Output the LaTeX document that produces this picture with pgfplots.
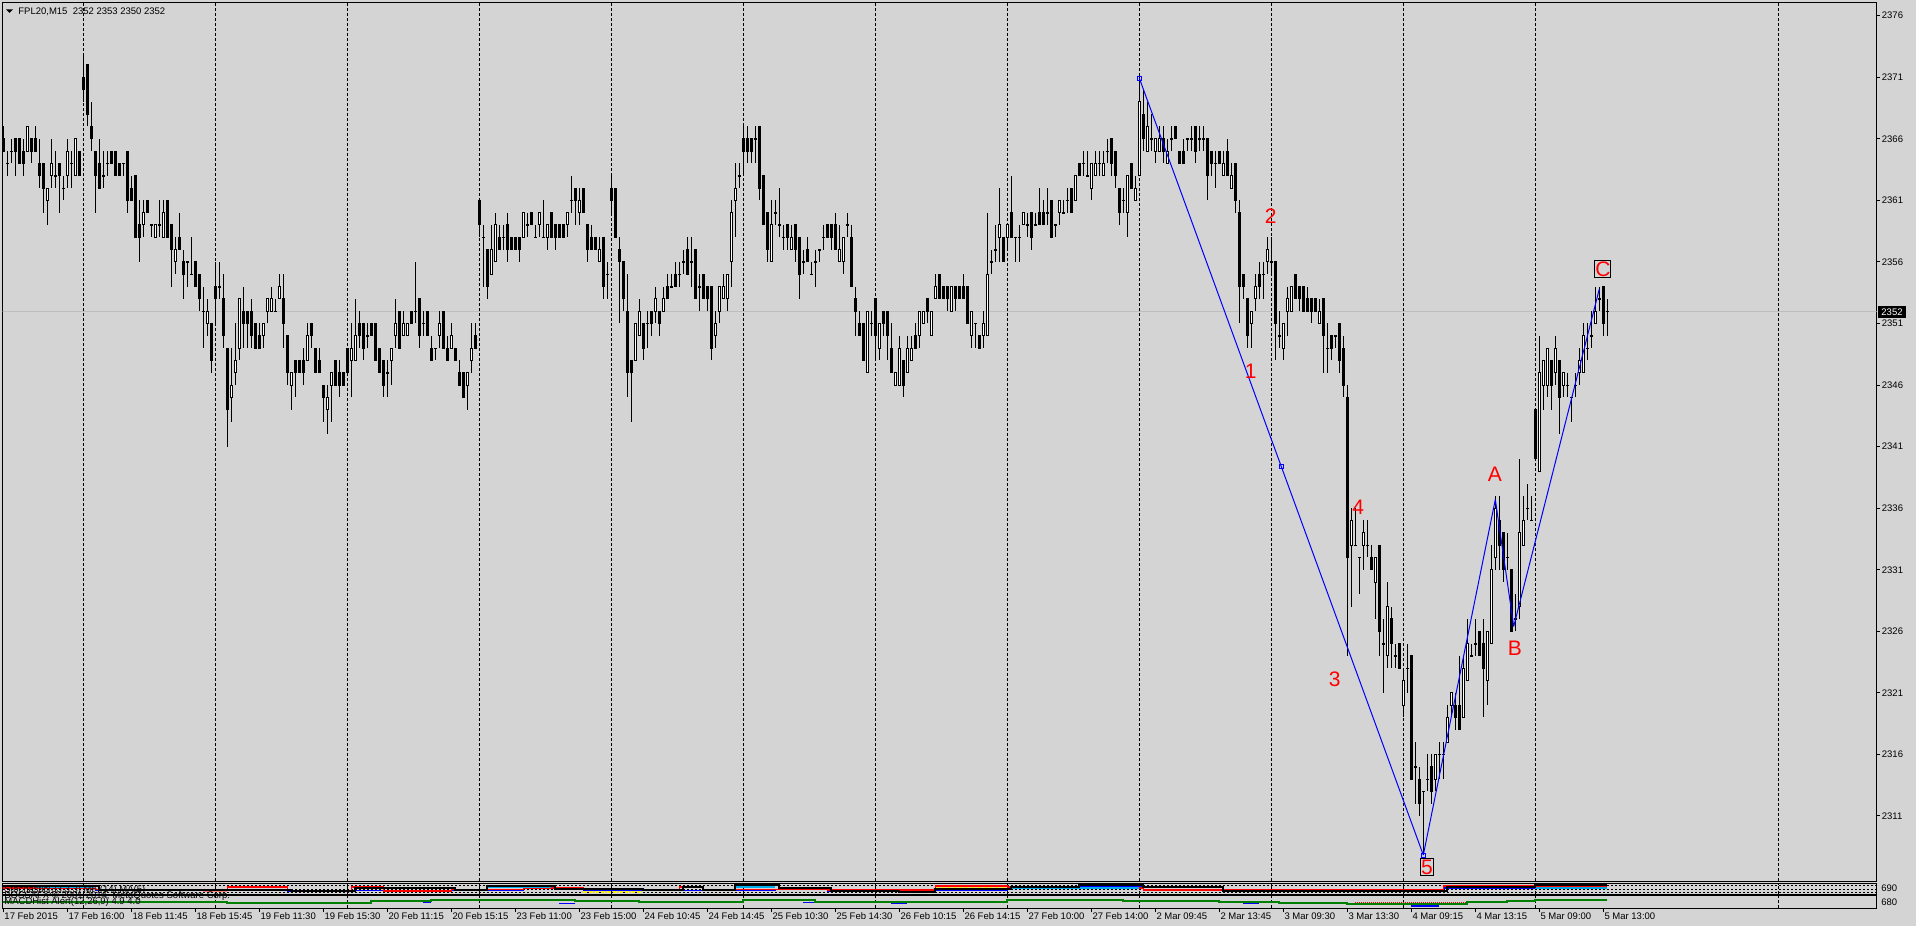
\documentclass[border=0pt]{standalone}
\usepackage{pgfplots}
\pgfplotsset{compat=1.18}
\usepackage{pgfplotstable}
\usepackage{fontspec}
\setmainfont{Liberation Sans}
\definecolor{bg}{RGB}{212,212,212}
\definecolor{pline}{RGB}{190,190,190}
\definecolor{mtgreen}{RGB}{0,128,0}
\definecolor{salmon}{RGB}{250,128,114}
\newcommand{\lbl}{\fontsize{4.75bp}{5.7bp}\selectfont}
\newcommand{\wav}{\fontsize{10.5bp}{12bp}\selectfont}

\pgfplotstableread{
O H L C
2366 2367 2365 2365
2364 2365 2363 2364
2365 2366 2364 2365
2366 2366 2363 2365
2366 2366 2364 2364
2365 2366 2363 2364
2365 2367 2365 2367
2366 2366 2364 2365
2366 2367 2365 2365
2364 2366 2362 2363
2364 2364 2360 2362
2361 2362 2359 2362
2363 2366 2362 2364
2363 2365 2362 2363
2364 2364 2360 2363
2362 2363 2361 2362
2363 2366 2362 2365
2364 2365 2362 2364
2363 2366 2363 2366
2365 2365 2363 2363
2371 2373 2369 2370
2372 2372 2367 2368
2367 2369 2365 2366
2365 2365 2360 2363
2364 2366 2362 2362
2363 2365 2362 2363
2364 2365 2363 2364
2365 2365 2364 2364
2365 2365 2363 2363
2364 2364 2363 2363
2364 2364 2363 2364
2365 2365 2360 2361
2362 2363 2361 2361
2363 2363 2358 2358
2359 2361 2356 2358
2359 2361 2358 2360
2361 2361 2360 2360
2359 2359 2358 2359
2358 2359 2358 2359
2359 2361 2358 2359
2358 2361 2358 2360
2361 2361 2358 2358
2359 2359 2354 2357
2356 2358 2355 2357
2358 2360 2357 2357
2356 2357 2353 2355
2356 2356 2354 2356
2355 2358 2355 2355
2356 2356 2354 2354
2355 2355 2352 2353
2352 2354 2349 2352
2351 2353 2350 2352
2351 2351 2347 2348
2354 2356 2351 2353
2354 2356 2353 2354
2353 2355 2349 2350
2349 2349 2341 2344
2345 2349 2343 2346
2347 2351 2346 2348
2349 2353 2348 2353
2352 2354 2349 2351
2352 2352 2349 2351
2352 2353 2349 2350
2351 2351 2349 2349
2350 2351 2349 2349
2350 2351 2349 2351
2352 2353 2351 2353
2352 2354 2352 2353
2352 2353 2352 2352
2353 2355 2353 2354
2353 2355 2349 2351
2350 2350 2346 2347
2346 2347 2344 2347
2348 2348 2345 2347
2348 2348 2347 2347
2348 2349 2346 2347
2348 2351 2348 2350
2351 2351 2349 2350
2349 2349 2347 2347
2348 2349 2347 2347
2346 2346 2343 2345
2344 2346 2342 2345
2346 2347 2343 2347
2348 2348 2346 2346
2347 2348 2345 2346
2347 2347 2346 2346
2349 2349 2347 2347
2348 2351 2345 2349
2348 2353 2348 2350
2351 2352 2349 2350
2351 2351 2348 2349
2350 2351 2349 2350
2351 2351 2350 2350
2351 2351 2348 2348
2349 2349 2347 2347
2348 2348 2345 2346
2347 2348 2345 2347
2348 2349 2346 2349
2350 2353 2349 2351
2352 2352 2349 2349
2350 2352 2350 2351
2350 2351 2350 2351
2352 2352 2351 2351
2352 2356 2351 2352
2353 2353 2349 2350
2351 2352 2350 2351
2352 2352 2350 2350
2349 2350 2348 2348
2349 2349 2348 2349
2350 2352 2349 2351
2352 2352 2349 2349
2349 2350 2348 2348
2349 2351 2349 2350
2349 2349 2348 2348
2347 2348 2346 2346
2347 2347 2345 2345
2346 2347 2344 2347
2348 2351 2347 2349
2350 2351 2349 2349
2361 2361 2358 2359
2358 2359 2354 2358
2357 2357 2353 2354
2355 2359 2355 2357
2356 2360 2356 2359
2358 2359 2357 2357
2358 2359 2357 2358
2359 2360 2356 2357
2358 2358 2357 2357
2358 2358 2357 2357
2358 2358 2356 2357
2358 2360 2358 2360
2359 2360 2358 2359
2360 2360 2359 2359
2358 2359 2358 2358
2359 2360 2358 2360
2358 2361 2358 2358
2358 2359 2357 2359
2360 2360 2358 2358
2359 2359 2357 2358
2359 2359 2358 2358
2359 2359 2358 2358
2359 2360 2358 2360
2361 2363 2360 2361
2362 2362 2359 2361
2360 2362 2359 2361
2362 2362 2360 2360
2359 2359 2356 2357
2358 2359 2357 2357
2358 2358 2357 2357
2356 2358 2356 2357
2358 2358 2353 2354
2355 2356 2353 2355
2362 2363 2360 2361
2362 2362 2358 2358
2357 2358 2351 2356
2356 2356 2352 2353
2352 2355 2345 2347
2348 2348 2343 2347
2348 2351 2348 2351
2350 2353 2350 2352
2351 2351 2348 2349
2351 2352 2349 2351
2352 2352 2350 2351
2352 2354 2351 2353
2352 2352 2350 2351
2352 2354 2352 2353
2354 2355 2353 2353
2354 2355 2354 2354
2355 2356 2354 2354
2355 2356 2354 2355
2356 2357 2355 2356
2357 2358 2355 2355
2356 2358 2354 2356
2357 2357 2353 2353
2354 2355 2352 2354
2355 2355 2353 2353
2354 2354 2352 2353
2354 2354 2348 2349
2350 2352 2349 2351
2352 2354 2351 2354
2353 2355 2353 2354
2353 2355 2352 2355
2356 2361 2354 2360
2361 2364 2358 2362
2363 2364 2362 2363
2366 2367 2363 2365
2366 2367 2364 2365
2366 2366 2364 2365
2366 2367 2364 2366
2367 2367 2361 2362
2363 2363 2359 2359
2360 2360 2356 2357
2356 2361 2356 2359
2360 2361 2359 2360
2359 2362 2358 2359
2358 2359 2357 2358
2359 2359 2357 2358
2357 2359 2357 2358
2359 2359 2356 2357
2358 2358 2353 2355
2356 2357 2355 2356
2357 2358 2356 2356
2355 2356 2355 2355
2356 2357 2354 2356
2357 2357 2356 2357
2358 2359 2357 2358
2359 2359 2358 2358
2359 2359 2357 2358
2359 2360 2357 2357
2356 2359 2356 2357
2356 2358 2355 2358
2359 2360 2358 2359
2358 2359 2354 2354
2353 2354 2350 2352
2351 2352 2350 2350
2351 2351 2348 2348
2347 2352 2347 2352
2351 2352 2350 2351
2353 2353 2348 2350
2349 2351 2348 2351
2352 2352 2350 2351
2352 2352 2348 2350
2349 2351 2347 2347
2346 2347 2346 2347
2346 2350 2346 2349
2348 2348 2345 2346
2347 2350 2347 2349
2348 2350 2348 2349
2350 2351 2349 2349
2350 2352 2349 2352
2351 2352 2351 2352
2353 2353 2351 2352
2350 2352 2350 2352
2353 2355 2353 2354
2355 2355 2353 2353
2354 2354 2353 2353
2354 2354 2352 2353
2352 2354 2352 2354
2354 2354 2352 2353
2354 2354 2353 2353
2354 2355 2353 2353
2354 2354 2351 2351
2350 2352 2349 2352
2351 2351 2349 2351
2350 2350 2349 2349
2350 2352 2349 2351
2350 2360 2350 2355
2356 2357 2355 2356
2357 2359 2356 2357
2358 2362 2356 2359
2358 2358 2356 2356
2358 2359 2357 2359
2360 2363 2358 2358
2358 2358 2356 2358
2358 2359 2356 2358
2359 2360 2359 2360
2359 2360 2358 2359
2360 2360 2357 2358
2359 2360 2359 2359
2360 2362 2359 2359
2360 2361 2359 2359
2360 2362 2359 2360
2361 2361 2358 2358
2359 2359 2358 2359
2360 2361 2359 2361
2360 2361 2360 2360
2361 2362 2360 2361
2362 2362 2360 2360
2361 2363 2361 2363
2364 2364 2363 2363
2364 2365 2363 2364
2363 2365 2363 2363
2362 2364 2361 2364
2363 2365 2363 2364
2364 2365 2363 2364
2363 2365 2363 2364
2365 2366 2364 2365
2366 2366 2363 2364
2365 2365 2362 2363
2362 2362 2359 2360
2361 2362 2360 2361
2360 2363 2358 2363
2364 2364 2362 2362
2361 2363 2361 2362
2363 2371 2363 2369
2368 2370 2365 2366
2365 2369 2365 2367
2366 2368 2365 2366
2365 2366 2364 2366
2365 2367 2365 2366
2366 2367 2364 2365
2364 2366 2364 2365
2366 2367 2365 2366
2367 2367 2366 2366
2365 2365 2364 2364
2365 2366 2364 2364
2366 2366 2365 2366
2366 2367 2365 2366
2367 2367 2364 2365
2366 2367 2365 2366
2366 2367 2365 2366
2366 2366 2361 2363
2365 2365 2363 2364
2364 2365 2362 2364
2365 2365 2364 2364
2363 2365 2363 2364
2365 2366 2363 2363
2362 2364 2362 2363
2364 2364 2360 2361
2360 2361 2351 2354
2355 2355 2353 2354
2353 2353 2349 2350
2351 2352 2349 2352
2353 2355 2352 2354
2355 2356 2353 2354
2355 2356 2353 2355
2356 2358 2355 2357
2356 2358 2355 2356
2356 2356 2348 2351
2350 2352 2349 2350
2349 2351 2348 2351
2352 2354 2350 2353
2352 2354 2352 2354
2355 2355 2353 2353
2354 2354 2352 2353
2354 2354 2352 2352
2353 2354 2352 2352
2353 2353 2351 2352
2353 2353 2352 2352
2351 2353 2351 2352
2353 2353 2347 2350
2349 2351 2347 2349
2350 2350 2348 2349
2350 2350 2349 2350
2351 2351 2347 2348
2349 2350 2345 2346
2345 2346 2324 2332
2333 2336 2328 2335
2333 2336 2333 2333
2332 2332 2329 2332
2333 2335 2331 2334
2333 2335 2332 2333
2332 2333 2331 2331
2330 2332 2327 2332
2333 2333 2324 2326
2325 2327 2321 2325
2324 2330 2323 2328
2327 2328 2323 2325
2324 2325 2323 2324
2325 2325 2323 2323
2320 2323 2319 2322
2323 2325 2321 2323
2324 2324 2314 2314
2315 2317 2312 2315
2314 2315 2311 2312
2313 2313 2308 2313
2314 2316 2313 2314
2315 2316 2312 2313
2314 2316 2313 2316
2316 2317 2314 2316
2316 2317 2314 2316
2317 2320 2317 2319
2320 2321 2319 2321
2320 2321 2318 2319
2320 2324 2318 2318
2319 2324 2319 2323
2322 2327 2322 2325
2324 2325 2324 2324
2325 2327 2324 2325
2326 2326 2324 2324
2325 2327 2319 2323
2322 2326 2320 2326
2325 2333 2325 2331
2332 2337 2331 2336
2335 2337 2331 2333
2334 2334 2330 2331
2332 2334 2331 2332
2331 2331 2326 2326
2327 2329 2326 2327
2328 2340 2327 2334
2333 2337 2333 2335
2336 2338 2335 2336
2335 2337 2335 2335
2344 2344 2340 2340
2339 2350 2339 2347
2346 2348 2344 2348
2346 2349 2345 2349
2348 2348 2344 2346
2347 2350 2346 2349
2348 2348 2342 2345
2346 2347 2345 2347
2346 2347 2345 2346
2345 2345 2343 2345
2346 2347 2345 2346
2347 2349 2346 2348
2347 2351 2347 2350
2349 2351 2348 2349
2350 2352 2349 2350
2351 2354 2351 2352
2353 2354 2352 2353
2354 2354 2350 2351
2352 2353 2350 2352
}\candles

\begin{document}
\begin{tikzpicture}
\path[fill=bg] (0,0) rectangle (958bp,463bp);

% ---------- main price panel ----------
\begin{axis}[
  at={(1.25bp,22.5bp)}, anchor=south west,
  scale only axis, width=937bp, height=439.25bp,
  xmin=-0.2, xmax=468.3, ymin=2305.72, ymax=2377.07,
  axis line style={line width=0.5bp, black},
  xtick=\empty,
  ytick={2311,2316,...,2376},
  ytick pos=right,
  tick align=outside,
  major tick length=1.5bp,
  tick style={line width=0.5bp, black},
  yticklabel style={font=\lbl, anchor=west, inner sep=0pt, xshift=1bp},
  extra x ticks={20,53,86,119,152,185,218,251,284,317,350,383,443.9},
  extra x tick labels={},
  extra x tick style={grid=major, major tick length=0pt, tick style={draw=none}},
  major grid style={black, line width=0.5bp, dash pattern=on 1.5bp off 1bp},
  /pgf/number format/1000 sep={},
  /pgf/number format/assume math mode=true,
]
\addplot[pline, line width=0.5bp, forget plot] coordinates {(-1,2352) (470,2352)};
% wicks
\addplot[draw=none, mark=none, forget plot,
  error bars/.cd, y dir=both, y explicit, error mark=none,
  error bar style={draw=black, line width=0.5bp, solid, line cap=butt}]
  table[x expr=\coordindex, y expr={0.5*(\thisrow{H}+\thisrow{L})},
        y error expr={0.5*(\thisrow{H}-\thisrow{L})}] {\candles};
% bodies (outline / bear fill)
\addplot[draw=none, mark=none, forget plot,
  error bars/.cd, y dir=both, y explicit, error mark=none,
  error bar style={draw=black, line width=1.5bp, solid, line cap=butt}]
  table[x expr=\coordindex, y expr={0.5*(\thisrow{O}+\thisrow{C})},
        y error expr={0.5*abs(\thisrow{C}-\thisrow{O})+0.0406}] {\candles};
% bull bodies white fill
\addplot[draw=none, mark=none, forget plot, restrict y to domain=2300:2400,
  error bars/.cd, y dir=both, y explicit, error mark=none,
  error bar style={draw=white, line width=0.5bp, solid, line cap=butt}]
  table[x expr=\coordindex, y expr={0.5*(\thisrow{O}+\thisrow{C})-1000*(\thisrow{O}>=\thisrow{C})},
        y error expr={0.5*abs(\thisrow{C}-\thisrow{O})-0.0406}] {\candles};
% Elliott wave lines
\addplot[blue, line width=0.5bp] coordinates {(284,2370.92) (355,2307.83)};
\addplot[blue, line width=0.5bp] coordinates {(355,2307.83) (373,2336.7)};
\addplot[blue, line width=0.5bp] coordinates {(373,2336.7) (377.6,2326.4)};
\addplot[blue, line width=0.5bp] coordinates {(377.6,2326.4) (399,2353.8)};
\addplot[only marks, blue, mark=square, mark size=1bp, mark options={solid, line width=0.5bp}]
  coordinates {(284,2370.92) (319.5,2339.4) (355,2307.83)};
% labels
\node[text=red, font=\wav, inner sep=0pt] at (axis cs:311.85,2347.1) {1};
\node[text=red, font=\wav, inner sep=0pt] at (axis cs:316.85,2359.7) {2};
\node[text=red, font=\wav, inner sep=0pt] at (axis cs:332.85,2322.1) {3};
\node[text=red, font=\wav, inner sep=0pt] at (axis cs:338.75,2336.1) {4};
\node[text=red, font=\wav, draw=black, line width=0.5bp, inner xsep=0.3bp, inner ysep=0.6bp] at (axis cs:355.9,2306.85) {5};
\node[text=red, font=\wav, inner sep=0pt] at (axis cs:372.9,2338.75) {A};
\node[text=red, font=\wav, inner sep=0pt] at (axis cs:377.9,2324.6) {B};
\node[text=red, font=\wav, draw=black, line width=0.5bp, inner xsep=0.2bp, inner ysep=0.6bp] at (axis cs:399.9,2355.4) {C};
\end{axis}

% ---------- indicator panel 1 ----------
\begin{axis}[
  at={(1.25bp,15.85bp)}, anchor=south west,
  scale only axis, width=937bp, height=5.4bp,
  xmin=-0.2, xmax=468.3, ymin=0, ymax=100,
  axis line style={line width=0.5bp, black},
  xtick=\empty, ytick=\empty,
  extra x ticks={20,53,86,119,152,185,218,251,284,317,350,383,443.9},
  extra x tick labels={},
  extra x tick style={grid=major, major tick length=0pt, tick style={draw=none}},
  major grid style={black, line width=0.5bp, dash pattern=on 1.5bp off 1bp},
]
\addplot[black, line width=0.5bp, dash pattern=on 1bp off 1bp, forget plot] coordinates {(-1,77) (470,77)};
\addplot[black, line width=0.5bp, dash pattern=on 1bp off 1bp, forget plot] coordinates {(-1,49) (470,49)};
\addplot[black, line width=0.5bp, dash pattern=on 1bp off 1bp, forget plot] coordinates {(-1,21) (470,21)};
\addplot[salmon, line width=0.8bp, const plot] coordinates {(50,30) (56,30)};
\addplot[salmon, line width=0.8bp, const plot] coordinates {(223,40) (232,40)};
\addplot[salmon, line width=0.8bp, const plot] coordinates {(305,34) (360,34)};
\addplot[yellow, line width=0.8bp, dash pattern=on 2bp off 1bp] coordinates {(145,21) (160,21)};
\addplot[yellow, line width=0.8bp, dash pattern=on 2bp off 1bp] coordinates {(206,34) (223,34)};
\addplot[yellow, line width=0.8bp, dash pattern=on 2bp off 1bp] coordinates {(233,56) (251,56)};
\addplot[yellow, line width=0.8bp, dash pattern=on 2bp off 1bp] coordinates {(285,46) (304,46)};
\addplot[yellow, line width=0.8bp, dash pattern=on 2bp off 1bp] coordinates {(361,61) (382,61)};
\addplot[blue, line width=0.8bp, const plot] coordinates {(0,56)(23,40)(56,34)(71,30)(87,34)(112,40)(130,56)(145,34)(175,40)(193,46)(206,30)(233,40)(251,60)(268,70)(285,70)(305,30)(360,56)(383,60)(401,60)};
\addplot[red, line width=0.8bp, const plot] coordinates {(0,56)(23,45)(56,70)(71,34)(87,70)(95,30)(112,45)(130,56)(145,46)(169,70)(175,45)(193,46)(206,40)(233,77)(251,65)(268,56)(285,40)(305,40)(360,77)(383,75)(401,75)};
\addplot[cyan, line width=1bp] coordinates {(8,70) (23,70)};
\addplot[cyan, line width=1bp] coordinates {(121,70) (137,70)};
\addplot[cyan, line width=1bp] coordinates {(183,70) (193,70)};
\addplot[cyan, line width=1bp] coordinates {(252,60) (284,60)};
\addplot[cyan, line width=1.2bp] coordinates {(383,56) (401,56)};
\addplot[black, line width=1bp, const plot] coordinates {(0,77)(23,77)(24,37)(56,37)(57,40)(71,40)(72,30)(87,30)(88,60)(112,55)(113,40)(120,40)(121,77)(137,77)(138,50)(145,50)(146,46)(160,40)(169,40)(170,70)(174,70)(175,40)(182,40)(183,83)(193,83)(194,61)(206,61)(207,30)(223,30)(224,24)(232,24)(233,46)(251,46)(252,65)(268,65)(269,83)(284,83)(285,70)(304,70)(305,34)(319,34)(320,27)(360,27)(361,70)(382,70)(383,83)(401,83)};
\end{axis}
\node[font=\lbl, anchor=base west, inner sep=0pt] at (2bp,16.6bp) {Stochastic(33,3,3)  MFI(14)  MA(5)};

% ---------- indicator panel 2 ----------
\begin{axis}[
  at={(1.25bp,8.85bp)}, anchor=south west,
  scale only axis, width=937bp, height=6.15bp,
  xmin=-0.2, xmax=468.3, ymin=0, ymax=100,
  axis line style={line width=0.5bp, black},
  ytick=\empty,
  xtick={0,16,...,400},
  xticklabels={17 Feb 2015,17 Feb 16:00,18 Feb 11:45,18 Feb 15:45,19 Feb 11:30,19 Feb 15:30,20 Feb 11:15,20 Feb 15:15,23 Feb 11:00,23 Feb 15:00,24 Feb 10:45,24 Feb 14:45,25 Feb 10:30,25 Feb 14:30,26 Feb 10:15,26 Feb 14:15,27 Feb 10:00,27 Feb 14:00,2 Mar 09:45,2 Mar 13:45,3 Mar 09:30,3 Mar 13:30,4 Mar 09:15,4 Mar 13:15,5 Mar 09:00,5 Mar 13:00},
  xtick pos=bottom,
  tick align=outside,
  major tick length=2bp,
  tick style={line width=0.5bp, black},
  xticklabel style={font=\lbl, anchor=north west, inner sep=0pt, xshift=0.4bp},
  extra x ticks={20,53,86,119,152,185,218,251,284,317,350,383,443.9},
  extra x tick labels={},
  extra x tick style={grid=major, major tick length=0pt, tick style={draw=none}},
  major grid style={black, line width=0.5bp, dash pattern=on 1.5bp off 1bp},
]
\addplot[red, line width=0.8bp, dash pattern=on 0.5bp off 0.5bp] coordinates {(338,46) (368,46)};
\addplot[green!70!black, line width=0.8bp, dash pattern=on 0.5bp off 0.5bp] coordinates {(388,70) (401,70)};
\addplot[blue, line width=0.8bp] coordinates {(105,46) (107,46)};
\addplot[blue, line width=0.8bp] coordinates {(139,40) (143,40)};
\addplot[blue, line width=0.8bp] coordinates {(185,62) (187,62)};
\addplot[blue, line width=0.8bp] coordinates {(200,46) (203,46)};
\addplot[blue, line width=0.8bp] coordinates {(222,40) (226,40)};
\addplot[blue, line width=0.8bp] coordinates {(310,40) (314,40)};
\addplot[blue, line width=0.8bp] coordinates {(337,31) (345,31)};
\addplot[blue, line width=0.8bp] coordinates {(352,20) (359,20)};
\addplot[blue, line width=0.8bp] coordinates {(386,73) (389,73)};
\addplot[mtgreen, line width=1bp, const plot] coordinates {(0,49)(56,46)(92,57)(107,65)(128,70)(143,62)(159,49)(170,54)(185,67)(203,54)(251,65)(274,67)(280,62)(304,54)(319,46)(336,37)(366,49)(376,57)(383,67)(401,67)};
\end{axis}
\node[font=\lbl, anchor=base west, inner sep=0pt] at (2bp,13.6bp) {BOSSAFX  \textcopyright{} 2001-2014, MetaQuotes Software Corp.};
\node[font=\lbl, anchor=base west, inner sep=0pt] at (2bp,10.6bp) {MACDHist  Alert(12,26,9)  4.9  4.0};

% right-side panel labels
\node[font=\lbl, anchor=west, inner sep=0pt] at (940.5bp,19bp) {690};
\node[font=\lbl, anchor=west, inner sep=0pt] at (940.5bp,12bp) {680};

% title
\fill[black] (3bp,458.3bp) -- (6.5bp,458.3bp) -- (4.75bp,456.6bp) -- cycle;
\node[font=\lbl, anchor=base west, inner sep=0pt] at (9bp,455.9bp) {FPL20,M15\ \ 2352 2353 2350 2352};

% current price box
\fill[black] (939bp,304bp) rectangle (953bp,310bp);
\node[font=\lbl, text=white, inner sep=0pt] at (946bp,307bp) {2352};
\end{tikzpicture}
\end{document}
